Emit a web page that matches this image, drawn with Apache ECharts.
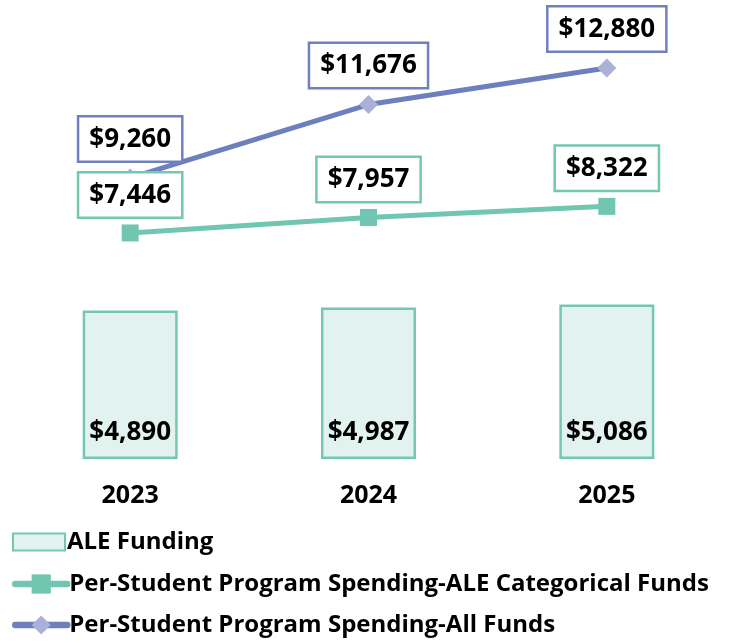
<!DOCTYPE html>
<html><head><meta charset="utf-8">
<script src="https://cdn.jsdelivr.net/npm/echarts@6/dist/echarts.min.js"></script>
<style>html,body{margin:0;padding:0;background:#fff}#c{width:731px;height:643px}</style>
</head><body><div id="c"></div>
<script>
const categories = ['2023', '2024', '2025'];
const aleFunding = [4890, 4987, 5086];
const aleCategorical = [7446, 7957, 8322];
const allFunds = [9260, 11676, 12880];
const seriesNames = ['ALE Funding', 'Per-Student Program Spending-ALE Categorical Funds', 'Per-Student Program Spending-All Funds'];

const FONT = '"Open Sans", sans-serif';
const fmt = v => '$' + v.value.toLocaleString('en-US');
const legendText = {fontSize: 24, fontWeight: 'bold', color: '#000', fontFamily: FONT, padding: [0, 0, 0, -3]};
const chart = echarts.init(document.getElementById('c'), null, {renderer: 'canvas'});
chart.setOption({
  animation: false,
  textStyle: {fontFamily: FONT},
  grid: {left: 11, right: 5, top: 34, bottom: 184},
  xAxis: {
    type: 'category', data: categories,
    axisLine: {show: false}, axisTick: {show: false},
    axisLabel: {margin: 24, fontSize: 25, fontWeight: 'bold', color: '#000', fontFamily: FONT}
  },
  yAxis: {type: 'value', min: 0, max: 14000, show: false, splitLine: {show: false}},
  legend: [
    {
      orient: 'vertical', left: 7, top: 525, itemWidth: 52, itemHeight: 17,
      textStyle: legendText,
      data: [{name: seriesNames[0], icon: 'rect'}]
    },
    {
      orient: 'vertical', left: 7, top: 567, height: 100, itemGap: 17, itemWidth: 52, itemHeight: 24,
      textStyle: legendText,
      lineStyle: {width: 6.5, cap: 'round'},
      data: [{name: seriesNames[1]}, {name: seriesNames[2]}]
    }
  ],
  series: [
    {
      name: seriesNames[0], type: 'bar', data: aleFunding, barWidth: 95,
      itemStyle: {color: '#e2f3ef', borderColor: '#74c7b3', borderWidth: 2.5},
      label: {show: true, position: 'insideBottom', distance: 13, formatter: fmt,
        fontSize: 26, fontWeight: 'bold', color: '#000', fontFamily: FONT}
    },
    {
      name: seriesNames[1], type: 'line', data: aleCategorical,
      symbol: 'rect', symbolSize: 17,
      lineStyle: {color: '#71c6b1', width: 5}, itemStyle: {color: '#71c6b1'},
      label: {show: true, position: 'top', distance: 8, formatter: fmt,
        fontSize: 26, fontWeight: 'bold', color: '#000', fontFamily: FONT,
        backgroundColor: '#fff', borderColor: '#74c7b3', borderWidth: 2.5, padding: [9, 10, 8, 10]}
    },
    {
      name: seriesNames[2], type: 'line', data: allFunds,
      symbol: 'diamond', symbolSize: 19,
      lineStyle: {color: '#6e7fbd', width: 5}, itemStyle: {color: '#a9b1d8'},
      label: {show: true, position: 'top', distance: 8, formatter: fmt,
        fontSize: 26, fontWeight: 'bold', color: '#000', fontFamily: FONT,
        backgroundColor: '#fff', borderColor: '#7080bf', borderWidth: 2.5, padding: [9, 10, 8, 10]}
    }
  ]
});
</script></body></html>
